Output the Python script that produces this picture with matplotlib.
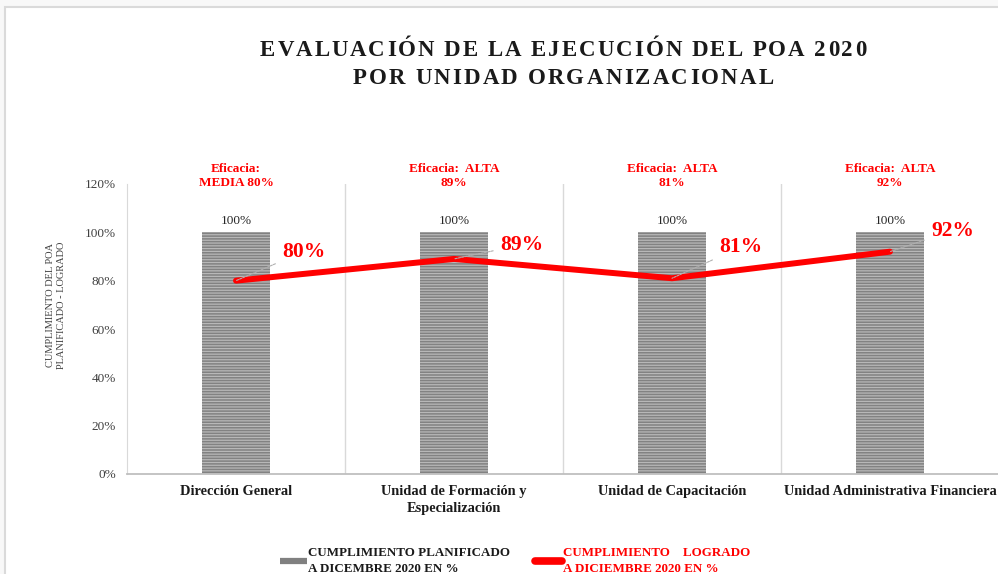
import matplotlib
matplotlib.use("Agg")
import matplotlib.pyplot as plt
from matplotlib.lines import Line2D
from matplotlib.patches import Rectangle

plt.rcParams['font.family'] = ['Liberation Serif', 'DejaVu Serif']
plt.rcParams['hatch.linewidth'] = 0.9

# data
unidades = ["Dirección General", "Unidad de Formación y\nEspecialización",
            "Unidad de Capacitación", "Unidad Administrativa Financiera"]
planificado = [100, 100, 100, 100]
logrado = [80, 89, 81, 92]
eficacia = ["Eficacia:\nMEDIA 80%", "Eficacia:  ALTA\n89%",
            "Eficacia:  ALTA\n81%", "Eficacia:  ALTA\n92%"]
yticks = [0, 20, 40, 60, 80, 100, 120]
# label offsets (pixels) of the big red values from their points
lbl_off = [(46, 29), (46, 14), (47, 31), (41, 21)]

W, H = 998, 574
fig = plt.figure(figsize=(W / 100, H / 100), dpi=100, facecolor='#f8f8f8')
fig.patches.append(Rectangle((5 / W, -0.05), 1.2, 1 - 7 / H + 0.05, transform=fig.transFigure,
                             facecolor='white', edgecolor='#dadada', lw=1.5, zorder=-10))

ax = fig.add_axes([127 / W, 1 - 474 / H, 872 / W, 290 / H])
ax.set_facecolor('none')
x = list(range(len(unidades)))

bars = ax.bar(x, planificado, width=0.31, color='#828282', edgecolor='#b8b8b8',
              linewidth=0, hatch='------', zorder=2)
for b, v in zip(bars, planificado):
    ax.annotate(f"{v}%", (b.get_x() + b.get_width() / 2, v), xytext=(0, 5),
                textcoords='offset pixels', ha='center', va='bottom', fontsize=9.5, color='#262626')

ax.plot(x, logrado, color='#ff0000', lw=4.3, solid_capstyle='round', zorder=3)
for i, v in enumerate(logrado):
    dx, dy = lbl_off[i]
    ax.annotate(f"{v}%", (i, v), xytext=(dx, dy), textcoords='offset pixels',
                ha='left', va='center', fontsize=15.5, fontweight='bold', color='#ff0000',
                arrowprops=dict(arrowstyle='-', color='#b0b0b0', lw=0.8, ls=(0, (2, 1)),
                                shrinkA=3, shrinkB=0), zorder=4)

for i, t in enumerate(eficacia):
    ax.text(i, 123.4, t, ha='center', va='center', fontsize=9.5, fontweight='bold',
            color='#ff0000', linespacing=1.25, clip_on=False)

for s in [0.5, 1.5, 2.5]:
    ax.axvline(s, color='#d9d9d9', lw=1, zorder=0)

ax.set_xlim(-0.5, 3.5)
ax.set_ylim(0, 120)
ax.set_yticks(yticks)
ax.set_yticklabels([f"{t}%" for t in yticks], fontsize=9.5, color='#404040')
ax.set_xticks(x)
ax.set_xticklabels(unidades, fontsize=10.4, fontweight='bold', color='#1a1a1a', linespacing=1.35)
ax.tick_params(axis='both', length=0)
ax.tick_params(axis='y', pad=8)
ax.tick_params(axis='x', pad=8)
for sp in ['top', 'right']:
    ax.spines[sp].set_visible(False)
ax.spines['left'].set_color('#d9d9d9')
ax.spines['bottom'].set_color('#bfbfbf')
ax.spines['bottom'].set_linewidth(1.3)

fig.text(56 / W, 1 - 305 / H, "CUMPLIMIENTO DEL POA\nPLANIFICADO - LOGRADO", rotation=90,
         ha='center', va='center', fontsize=7.5, color='#404040', linespacing=1.15)

# title with letter spacing
renderer = fig.canvas.get_renderer()


def char_width(ch, **kw):
    a = fig.text(0, 0, "|" + ch + "|", **kw)
    b = fig.text(0, 0, "||", **kw)
    w = a.get_window_extent(renderer).width - b.get_window_extent(renderer).width
    a.remove()
    b.remove()
    return w


def spaced_title(s, xc, yc, target, **kw):
    ws = [char_width(c, **kw) for c in s]
    track = (target - sum(ws)) / (len(s) - 1)
    xpos = xc - target / 2
    for c, w in zip(s, ws):
        fig.text(xpos / W, 1 - yc / H, c, ha='left', va='center', **kw)
        xpos += w + track


tkw = dict(fontsize=16.5, fontweight='bold', color='#1a1a1a')
spaced_title("EVALUACIÓN DE LA EJECUCIÓN DEL POA 2020", 563, 51, 606, **tkw)
spaced_title("POR UNIDAD ORGANIZACIONAL", 563, 79, 421, **tkw)

handles = [Line2D([], [], color='#808080', lw=4.5, solid_capstyle='butt'),
           Line2D([], [], color='#ff0000', lw=5.5, solid_capstyle='round')]
labels = ["CUMPLIMIENTO PLANIFICADO\nA DICEMBRE 2020 EN %",
          "CUMPLIMIENTO    LOGRADO\nA DICIEMBRE 2020 EN %"]
leg = fig.legend(handles, labels, loc='upper left', bbox_to_anchor=(268 / W, 1 - 535 / H), ncol=2,
                 frameon=False, handlelength=2.1, handletextpad=0.05, columnspacing=1.9,
                 labelcolor=['#1a1a1a', '#ff0000'],
                 prop=dict(family='Liberation Serif', weight='bold', size=9.4))
for t in leg.get_texts():
    t.set_linespacing(1.45)

fig.savefig("out.png", dpi=100, facecolor=fig.get_facecolor())
